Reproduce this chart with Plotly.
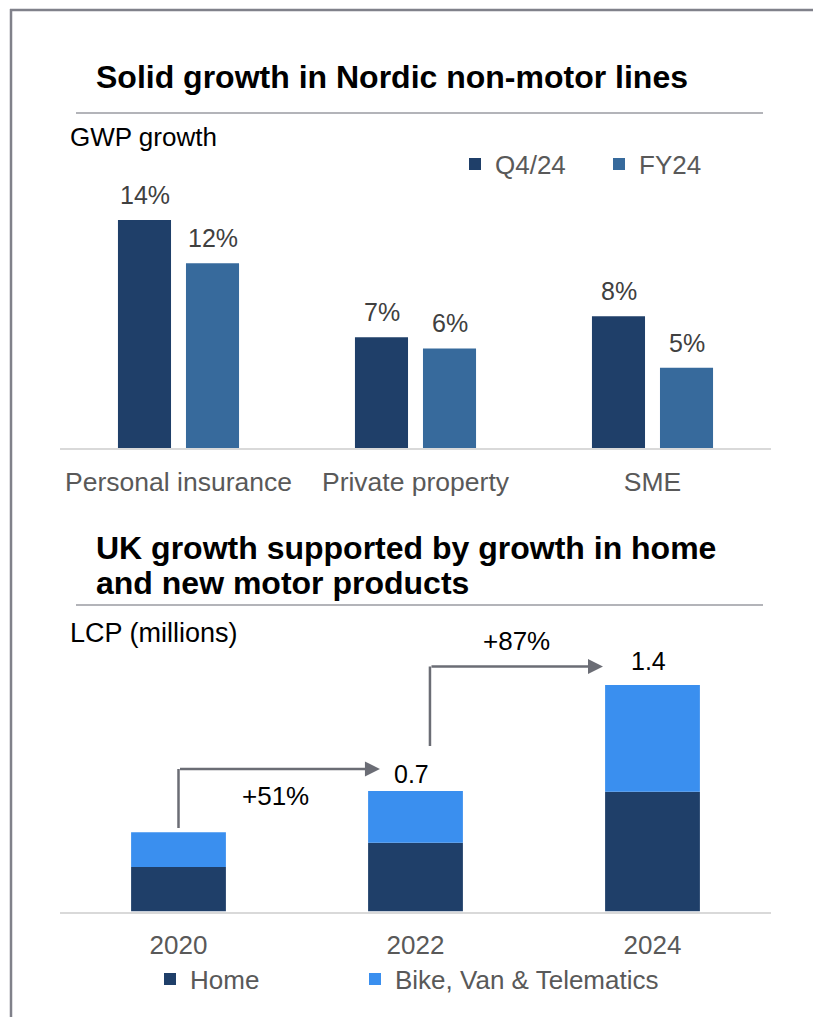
import plotly.graph_objects as go

# ---------------- data ----------------
nordic_categories = ["Personal insurance", "Private property", "SME"]
q4_24_growth = [14.2, 6.9, 8.2]          # % GWP growth, Q4/24
fy24_growth = [11.5, 6.2, 5.0]           # % GWP growth, FY24
q4_24_labels = ["14%", "7%", "8%"]
fy24_labels = ["12%", "6%", "5%"]

uk_years = ["2020", "2022", "2024"]
home_lcp = [0.275, 0.425, 0.74]          # millions
bike_van_tele_lcp = [0.215, 0.32, 0.66]  # millions
total_labels = ["", "0.7", "1.4"]
growth_labels = ["+51%", "+87%"]

# ---------------- style ----------------
OFF = 8                       # page body margin of the browser
W, H = 821 - OFF, 1017 - OFF
FONT = "Arial, Liberation Sans, sans-serif"
C_Q4 = "#1F3F69"
C_FY = "#376A9C"
C_HOME = "#1F3F69"
C_BIKE = "#3A8FEF"
C_ARROW = "#6B6D75"
C_FRAME = "#80818A"
C_RULE = "#9A9BA2"
C_AXIS = "#D9D9D9"
C_TICK = "#595959"


def px_x(p):
    return (p - OFF) / W


def px_y(p):
    return 1 - (p - OFF) / H


year_pos = list(range(len(uk_years)))   # positions on the linear bottom axis

fig = go.Figure()

# top chart: grouped bars
fig.add_trace(go.Bar(x=nordic_categories, y=q4_24_growth, name="Q4/24",
                     marker=dict(color=C_Q4, line=dict(width=0)),
                     xaxis="x", yaxis="y", legend="legend"))
fig.add_trace(go.Bar(x=nordic_categories, y=fy24_growth, name="FY24",
                     marker=dict(color=C_FY, line=dict(width=0)),
                     xaxis="x", yaxis="y", legend="legend", legendwidth=150))

# bottom chart: stacked bars (same offset group, bike based on home)
fig.add_trace(go.Bar(x=year_pos, y=home_lcp, name="Home",
                     marker=dict(color=C_HOME, line=dict(width=0)),
                     offsetgroup="uk", width=0.4, legendwidth=160,
                     xaxis="x2", yaxis="y2", legend="legend2"))
fig.add_trace(go.Bar(x=year_pos, y=bike_van_tele_lcp, base=home_lcp,
                     name="Bike, Van & Telematics",
                     marker=dict(color=C_BIKE, line=dict(width=0)),
                     offsetgroup="uk", width=0.4, legendwidth=320,
                     xaxis="x2", yaxis="y2", legend="legend2"))

annotations = []
# top data labels
for cat, v, t in zip(nordic_categories, q4_24_growth, q4_24_labels):
    annotations.append(dict(x=cat, y=v, xref="x", yref="y", text=t, showarrow=False,
                            xshift=-34, yshift=25, yanchor="middle",
                            font=dict(family=FONT, size=25, color="#404040")))
for cat, v, t in zip(nordic_categories, fy24_growth, fy24_labels):
    annotations.append(dict(x=cat, y=v, xref="x", yref="y", text=t, showarrow=False,
                            xshift=34, yshift=25, yanchor="middle",
                            font=dict(family=FONT, size=25, color="#404040")))

# bottom total labels
totals = [h + b for h, b in zip(home_lcp, bike_van_tele_lcp)]
total_shift = [20, 17, 24]
for xp, tot, t, s in zip(year_pos, totals, total_labels, total_shift):
    if t:
        annotations.append(dict(x=xp, y=tot, xref="x2", yref="y2", text=t, showarrow=False,
                                xshift=-4, yshift=s, yanchor="middle",
                                font=dict(family=FONT, size=25, color="#000000")))

# growth arrows (vertical riser + horizontal segment with head)
arrows = [
    dict(x0=0.0, y_start=0.516, y_level=0.881, x_tip=0.850),
    dict(x0=1.061, y_start=1.023, y_level=1.514, x_tip=1.791),
]
shapes = []
for a in arrows:
    shapes.append(dict(type="line", xref="x2", yref="y2", x0=a["x0"], x1=a["x0"],
                       y0=a["y_start"], y1=a["y_level"],
                       line=dict(color=C_ARROW, width=2.5)))
    annotations.append(dict(x=a["x_tip"], y=a["y_level"], ax=a["x0"], ay=a["y_level"],
                            xref="x2", yref="y2", axref="x2", ayref="y2", text="",
                            showarrow=True, arrowhead=2, arrowsize=1.2, arrowwidth=2.5,
                            arrowcolor=C_ARROW, standoff=0, startstandoff=0))

annotations.append(dict(x=0.41, y=0.714, xref="x2", yref="y2", text=growth_labels[0],
                        showarrow=False, font=dict(family=FONT, size=26, color="#000000")))
annotations.append(dict(x=1.426, y=1.672, xref="x2", yref="y2", text=growth_labels[1],
                        showarrow=False, font=dict(family=FONT, size=26, color="#000000")))

# titles and sub-labels
annotations += [
    dict(x=px_x(94), y=px_y(77), xref="paper", yref="paper", xanchor="left", yanchor="middle",
         text="<b>Solid growth in Nordic non-motor lines</b>", showarrow=False,
         font=dict(family=FONT, size=32, color="#000000")),
    dict(x=px_x(68), y=px_y(137), xref="paper", yref="paper", xanchor="left", yanchor="middle",
         text="GWP growth", showarrow=False, font=dict(family=FONT, size=26, color="#000000")),
    dict(x=px_x(94), y=px_y(548), xref="paper", yref="paper", xanchor="left", yanchor="middle",
         text="<b>UK growth supported by growth in home</b>", showarrow=False,
         font=dict(family=FONT, size=32, color="#000000")),
    dict(x=px_x(94), y=px_y(583), xref="paper", yref="paper", xanchor="left", yanchor="middle",
         text="<b>and new motor products</b>", showarrow=False,
         font=dict(family=FONT, size=32, color="#000000")),
    dict(x=px_x(68), y=px_y(633), xref="paper", yref="paper", xanchor="left", yanchor="middle",
         text="LCP (millions)", showarrow=False, font=dict(family=FONT, size=27, color="#000000")),
]

# frame and title rules
shapes += [
    dict(type="line", xref="paper", yref="paper", x0=px_x(10), x1=1.0, y0=px_y(10), y1=px_y(10),
         line=dict(color=C_FRAME, width=2.5)),
    dict(type="line", xref="paper", yref="paper", x0=px_x(11), x1=px_x(11), y0=px_y(9), y1=0,
         line=dict(color=C_FRAME, width=2.5)),
    dict(type="line", xref="paper", yref="paper", x0=px_x(76), x1=px_x(763), y0=px_y(113), y1=px_y(113),
         line=dict(color=C_RULE, width=1.5)),
    dict(type="line", xref="paper", yref="paper", x0=px_x(76), x1=px_x(763), y0=px_y(605), y1=px_y(605),
         line=dict(color=C_RULE, width=1.5)),
]

xdom = [px_x(60), px_x(771)]
fig.update_layout(
    width=W, height=H,
    margin=dict(l=0, r=0, t=0, b=0),
    paper_bgcolor="white", plot_bgcolor="white",
    barmode="group", bargap=0.426, bargroupgap=0.22,
    font=dict(family=FONT, size=26, color=C_TICK),
    xaxis=dict(domain=xdom, anchor="y", type="category", showgrid=False, showline=True,
               linecolor=C_AXIS, linewidth=2, ticks="", tickfont=dict(size=26.5, color=C_TICK),
               ticklabelstandoff=9, fixedrange=True),
    yaxis=dict(domain=[px_y(448), px_y(190)], range=[0, 258 / 16.06], visible=False,
               fixedrange=True),
    xaxis2=dict(domain=xdom, anchor="y2", type="linear", range=[-0.5, len(uk_years) - 0.5],
                tickmode="array", tickvals=year_pos, ticktext=uk_years,
                showgrid=False, zeroline=False, showline=True,
                linecolor=C_AXIS, linewidth=2, ticks="", tickfont=dict(size=26, color=C_TICK),
                ticklabelstandoff=9, fixedrange=True),
    yaxis2=dict(domain=[px_y(911.5), px_y(630)], range=[0, 281.5 / 161.8], visible=False,
                fixedrange=True),
    legend=dict(orientation="h", x=px_x(455), y=px_y(164), xanchor="left", yanchor="middle",
                entrywidth=99, entrywidthmode="pixels", bgcolor="rgba(0,0,0,0)",
                font=dict(family=FONT, size=26, color=C_TICK), traceorder="normal"),
    legend2=dict(orientation="h", x=px_x(150), y=px_y(979), xanchor="left", yanchor="middle",
                 entrywidth=160, entrywidthmode="pixels", bgcolor="rgba(0,0,0,0)",
                 font=dict(family=FONT, size=26, color=C_TICK), traceorder="normal"),
    annotations=annotations,
    shapes=shapes,
    showlegend=True,
)

fig.write_html("out.html", config={"displayModeBar": False})
